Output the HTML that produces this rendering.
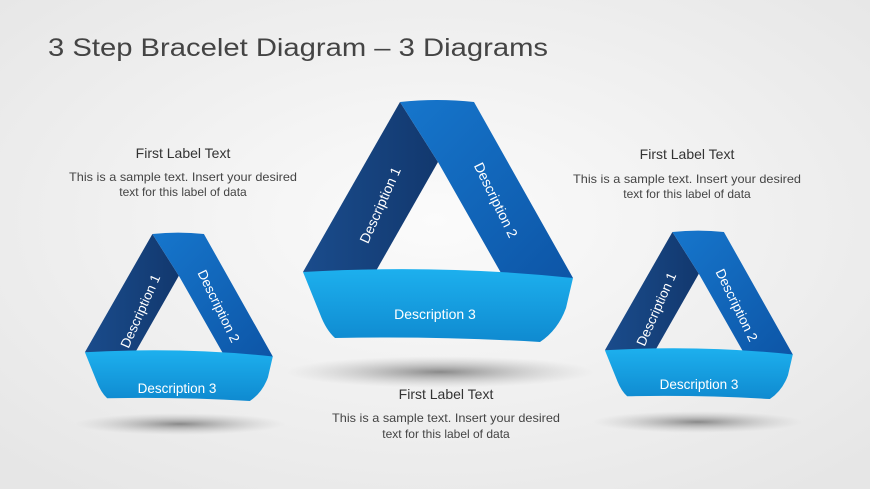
<!DOCTYPE html>
<html><head><meta charset="utf-8"><style>
html,body{margin:0;padding:0;width:870px;height:489px;overflow:hidden;background:#f4f4f4}
text{font-family:"Liberation Sans",sans-serif}
</style></head><body>
<svg width="870" height="489" viewBox="0 0 870 489" xmlns="http://www.w3.org/2000/svg">
<defs>
<radialGradient id="bg" cx="0.5" cy="0.45" r="0.7"><stop offset="0" stop-color="#fbfbfb"/><stop offset="1" stop-color="#e6e6e6"/></radialGradient>
<linearGradient id="g1" x1="0" y1="0" x2="1" y2="0"><stop offset="0" stop-color="#1a4c8c"/><stop offset="1" stop-color="#12386e"/></linearGradient>
<linearGradient id="g2" x1="0" y1="0" x2="1" y2="1"><stop offset="0" stop-color="#1676cc"/><stop offset="1" stop-color="#0d55a6"/></linearGradient>
<linearGradient id="g3" x1="0" y1="0" x2="0" y2="1"><stop offset="0" stop-color="#1db0ee"/><stop offset="1" stop-color="#0f8ad0"/></linearGradient>
<radialGradient id="sh" cx="0.5" cy="0.5" r="0.5"><stop offset="0" stop-color="#777" stop-opacity="0.85"/><stop offset="1" stop-color="#bbb" stop-opacity="0"/></radialGradient>
<g id="tri">
<path d="M400,102 L438,162 L372,278 L303,272 Z" fill="url(#g1)"/>
<path d="M400,102 Q437,98 474,102 L573,278 L505,280 L438,162 Z" fill="url(#g2)"/>
<path d="M303,272 Q440,264 573,278 L566,308 Q558,330 540,342 Q440,336 335,338 Q326,330 320,314 Z" fill="url(#g3)"/>
</g>
</defs>
<rect width="870" height="489" fill="url(#bg)"/>
<text x="48" y="56" font-size="25" fill="#444" textLength="500" lengthAdjust="spacingAndGlyphs">3 Step Bracelet Diagram – 3 Diagrams</text>

<ellipse cx="440" cy="372" rx="155" ry="16" fill="url(#sh)"/>
<ellipse cx="180" cy="424" rx="105" ry="11" fill="url(#sh)"/>
<ellipse cx="698" cy="422" rx="105" ry="11" fill="url(#sh)"/>

<use href="#tri"/>
<use href="#tri" transform="translate(-126,163) scale(0.696)"/>
<use href="#tri" transform="translate(394,161) scale(0.696)"/>

<g fill="#fff" font-size="14" text-anchor="middle">
<text transform="translate(380,205) rotate(-66)" dy="5">Description 1</text>
<text transform="translate(496,200) rotate(64)" dy="5">Description 2</text>
<text x="435" y="319">Description 3</text>
<text transform="translate(140,311) rotate(-66)" dy="5" font-size="13.5">Description 1</text>
<text transform="translate(219,306) rotate(64)" dy="5" font-size="13.5">Description 2</text>
<text x="177" y="393" font-size="13.5">Description 3</text>
<text transform="translate(656,309) rotate(-66)" dy="5" font-size="13.5">Description 1</text>
<text transform="translate(737,305) rotate(64)" dy="5" font-size="13.5">Description 2</text>
<text x="699" y="389" font-size="13.5">Description 3</text>
</g>

<g fill="#333" text-anchor="middle">
<text x="183" y="158" font-size="14">First Label Text</text>
<text x="183" y="181" font-size="12" fill="#444" textLength="228" lengthAdjust="spacingAndGlyphs">This is a sample text. Insert your desired</text>
<text x="183" y="196" font-size="12" fill="#444">text for this label of data</text>
<text x="687" y="159" font-size="14">First Label Text</text>
<text x="687" y="183" font-size="12" fill="#444" textLength="228" lengthAdjust="spacingAndGlyphs">This is a sample text. Insert your desired</text>
<text x="687" y="198" font-size="12" fill="#444">text for this label of data</text>
<text x="446" y="399" font-size="14">First Label Text</text>
<text x="446" y="422" font-size="12" fill="#444" textLength="228" lengthAdjust="spacingAndGlyphs">This is a sample text. Insert your desired</text>
<text x="446" y="438" font-size="12" fill="#444">text for this label of data</text>
</g>
</svg>
</body></html>
